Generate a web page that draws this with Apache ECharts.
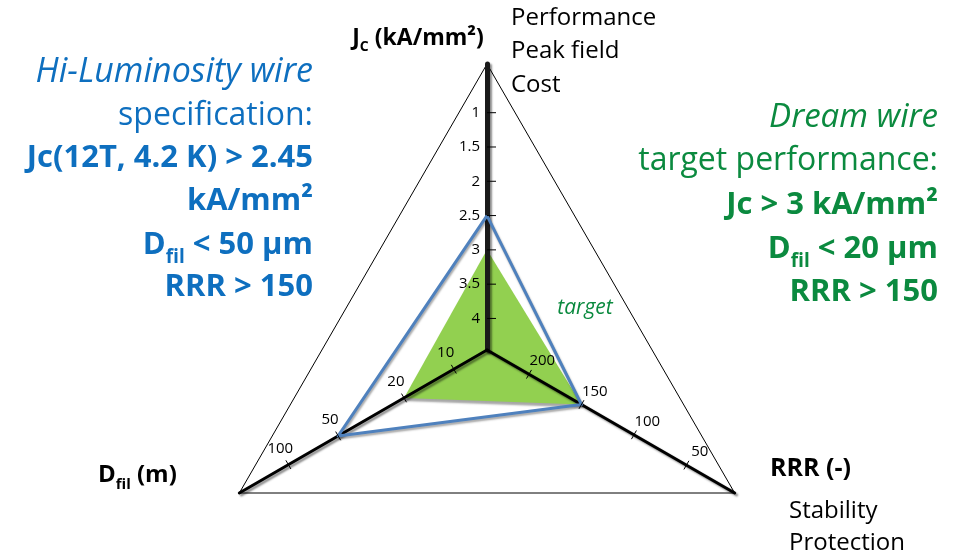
<!DOCTYPE html>
<html><head><meta charset="utf-8">
<script src="https://cdn.jsdelivr.net/npm/echarts@6/dist/echarts.min.js"></script>
<style>html,body{margin:0;padding:0;background:#fff}#c{width:958px;height:555px}</style>
</head><body><div id="c"></div>
<script>
// ---- data ----
// indicator order: Jc (top), D_fil (lower left), RRR (lower right)
const indicatorNames = ['Jc', 'Dfil', 'RRR'];
const jcTicks = [1, 1.5, 2, 2.5, 3, 3.5, 4];
const dfilTicks = [10, 20, 50, 100];
const rrrTicks = [200, 150, 100, 50];
// axis extents: value at centre, value at outer vertex
const jcRange = [4.46, 0.29];
const dfilRange = [6.3, 198];
const rrrRange = [240, 4];
// series values [Jc, Dfil, RRR]
const hiLumiSpec = [2.5, 50, 150];
const dreamTarget = [3, 20, 150];

// axis transforms (Jc and RRR decrease outward, Dfil is logarithmic)
const tf = [v => -v, v => Math.log10(v), v => -v];
const ranges = [jcRange, dfilRange, rrrRange];
const toRadar = arr => arr.map((v, i) => tf[i](v));

const FONT = '"Open Sans", sans-serif';
const BLUE = '#0E6FBF';
const GREEN = '#0B8A3F';

const chart = echarts.init(document.getElementById('c'), null, {renderer: 'canvas'});
const option = {
  animation: false,
  backgroundColor: '#fff',
  radar: {
    z: 2,
    center: [487, 350],
    radius: 286,
    startAngle: 90,
    splitNumber: 1,
    shape: 'polygon',
    indicator: indicatorNames.map((n, i) => {
      const ind = {name: n, min: tf[i](ranges[i][0]), max: tf[i](ranges[i][1])};
      if (i === 0) ind.axisLine = {lineStyle: {width: 5, color: '#1a1a1a'}};
      return ind;
    }),
    axisName: {show: false},
    axisLine: {lineStyle: {color: '#000', width: 3, shadowColor: 'rgba(0,0,0,0.45)', shadowBlur: 2, shadowOffsetX: 2, shadowOffsetY: 2}},
    axisTick: {show: false},
    axisLabel: {show: false},
    splitLine: {show: true, lineStyle: {color: ['rgba(0,0,0,0)', '#000'], width: 1}},
    splitArea: {show: false}
  },
  series: [
    {
      type: 'radar', z: 1, symbol: 'none',
      lineStyle: {width: 0, color: 'rgba(0,0,0,0)'},
      areaStyle: {color: '#92D050', opacity: 1, shadowColor: 'rgba(0,0,0,0.35)', shadowBlur: 2, shadowOffsetY: 3},
      data: [{value: toRadar(dreamTarget), name: 'Dream wire'}]
    },
    {
      type: 'radar', z: 3, symbol: 'none',
      lineStyle: {width: 3, color: '#4F81BD', shadowColor: 'rgba(0,0,0,0.35)', shadowBlur: 2, shadowOffsetX: 1, shadowOffsetY: 2},
      data: [{value: toRadar(hiLumiSpec), name: 'Hi-Luminosity wire'}]
    }
  ]
};
chart.setOption(option);

// ---- ticks & tick labels placed through the radar coordinate system ----
const cs = chart.getModel().getComponent('radar').coordinateSystem;
const P = (i, v) => cs.dataToPoint(tf[i](v), i);
const g = [];
function dirOf(i) {
  const a = P(i, ranges[i][0]), b = P(i, ranges[i][1]);
  const dx = b[0] - a[0], dy = b[1] - a[1], L = Math.hypot(dx, dy);
  return [dx / L, dy / L];
}
const tickStyle = {stroke: '#000', lineWidth: 1};
const lblStyle = {font: '15px ' + FONT, fill: '#000'};
// Jc
jcTicks.forEach(v => {
  const p = P(0, v);
  g.push({type: 'line', z: 10, shape: {x1: p[0], y1: p[1], x2: p[0] + 9, y2: p[1]}, style: tickStyle});
  g.push({type: 'text', z: 10, x: p[0] - 7, y: p[1], style: Object.assign({text: String(v), textAlign: 'right', textVerticalAlign: 'middle'}, lblStyle)});
});
// Dfil & RRR (labels on the upper side of each axis)
[[1, dfilTicks], [2, rrrTicks]].forEach(([i, ticks]) => {
  const d = dirOf(i);
  const n = i === 1 ? [-d[1], d[0]] : [d[1], -d[0]];
  ticks.forEach(v => {
    const p = P(i, v);
    g.push({type: 'line', z: 10, shape: {x1: p[0] - n[0] * 5, y1: p[1] - n[1] * 5, x2: p[0] + n[0] * 5, y2: p[1] + n[1] * 5}, style: tickStyle});
    const along = i === 1 ? -1 : 5;
    g.push({type: 'text', z: 10, x: p[0] + n[0] * 18 + d[0] * along, y: p[1] + n[1] * 18 + d[1] * along,
      style: Object.assign({text: String(v), textAlign: 'center', textVerticalAlign: 'middle'}, lblStyle)});
  });
});

// ---- annotation texts ----
function txt(x, y, text, opt) {
  g.push({type: 'text', z: 12, x: x, y: y, style: Object.assign({text: text, textVerticalAlign: 'middle', fill: '#000', font: '24px ' + FONT}, opt || {})});
}
const subRich = (color, size) => ({
  m: {fontFamily: 'Open Sans', fontWeight: 'bold', fontSize: size, fill: color, lineHeight: size * 1.4, verticalAlign: 'middle'},
  s: {fontFamily: 'Open Sans', fontWeight: 'bold', fontSize: Math.round(size * 0.62), fill: color, lineHeight: Math.round(size * 0.62), verticalAlign: 'bottom'}
});
// axis titles
txt(418, 38, '{m|J}{s|C}{m| (kA/mm²)}', {textAlign: 'center', rich: subRich('#000', 23)});
txt(511, 18, 'Performance', {textAlign: 'left'});
txt(511, 51, 'Peak field', {textAlign: 'left'});
txt(511, 85, 'Cost', {textAlign: 'left'});
txt(98, 475, '{m|D}{s|fil}{m| (m)}', {textAlign: 'left', rich: subRich('#000', 24)});
txt(770, 469, '{m|RRR (-)}', {textAlign: 'left', rich: subRich('#000', 25)});
txt(789, 511, 'Stability', {textAlign: 'left'});
txt(789, 543, 'Protection', {textAlign: 'left'});
txt(585, 308, 'target', {textAlign: 'center', font: 'italic 21px ' + FONT, fill: GREEN});
// left block
const LX = 313;
txt(LX, 72, 'Hi-Luminosity wire', {textAlign: 'right', font: 'italic 34px ' + FONT, fill: BLUE});
txt(LX, 116, 'specification:', {textAlign: 'right', font: '32px ' + FONT, fill: BLUE});
txt(LX, 158, 'Jc(12T, 4.2 K) > 2.45', {textAlign: 'right', font: 'bold 31px ' + FONT, fill: BLUE});
txt(LX, 201, 'kA/mm²', {textAlign: 'right', font: 'bold 31px ' + FONT, fill: BLUE});
txt(LX, 245, '{m|D}{s|fil}{m| < 50 μm}', {textAlign: 'right', rich: subRich(BLUE, 31)});
txt(LX, 287, 'RRR > 150', {textAlign: 'right', font: 'bold 31px ' + FONT, fill: BLUE});
// right block
const RX = 938;
txt(RX, 118, 'Dream wire', {textAlign: 'right', font: 'italic 33px ' + FONT, fill: GREEN});
txt(RX, 161, 'target performance:', {textAlign: 'right', font: '32px ' + FONT, fill: GREEN});
txt(RX, 205, 'Jc > 3 kA/mm²', {textAlign: 'right', font: 'bold 31px ' + FONT, fill: GREEN});
txt(RX, 249, '{m|D}{s|fil}{m| < 20 μm}', {textAlign: 'right', rich: subRich(GREEN, 31)});
txt(RX, 292, 'RRR > 150', {textAlign: 'right', font: 'bold 31px ' + FONT, fill: GREEN});

chart.setOption({graphic: {elements: g}});
</script>
</body></html>
